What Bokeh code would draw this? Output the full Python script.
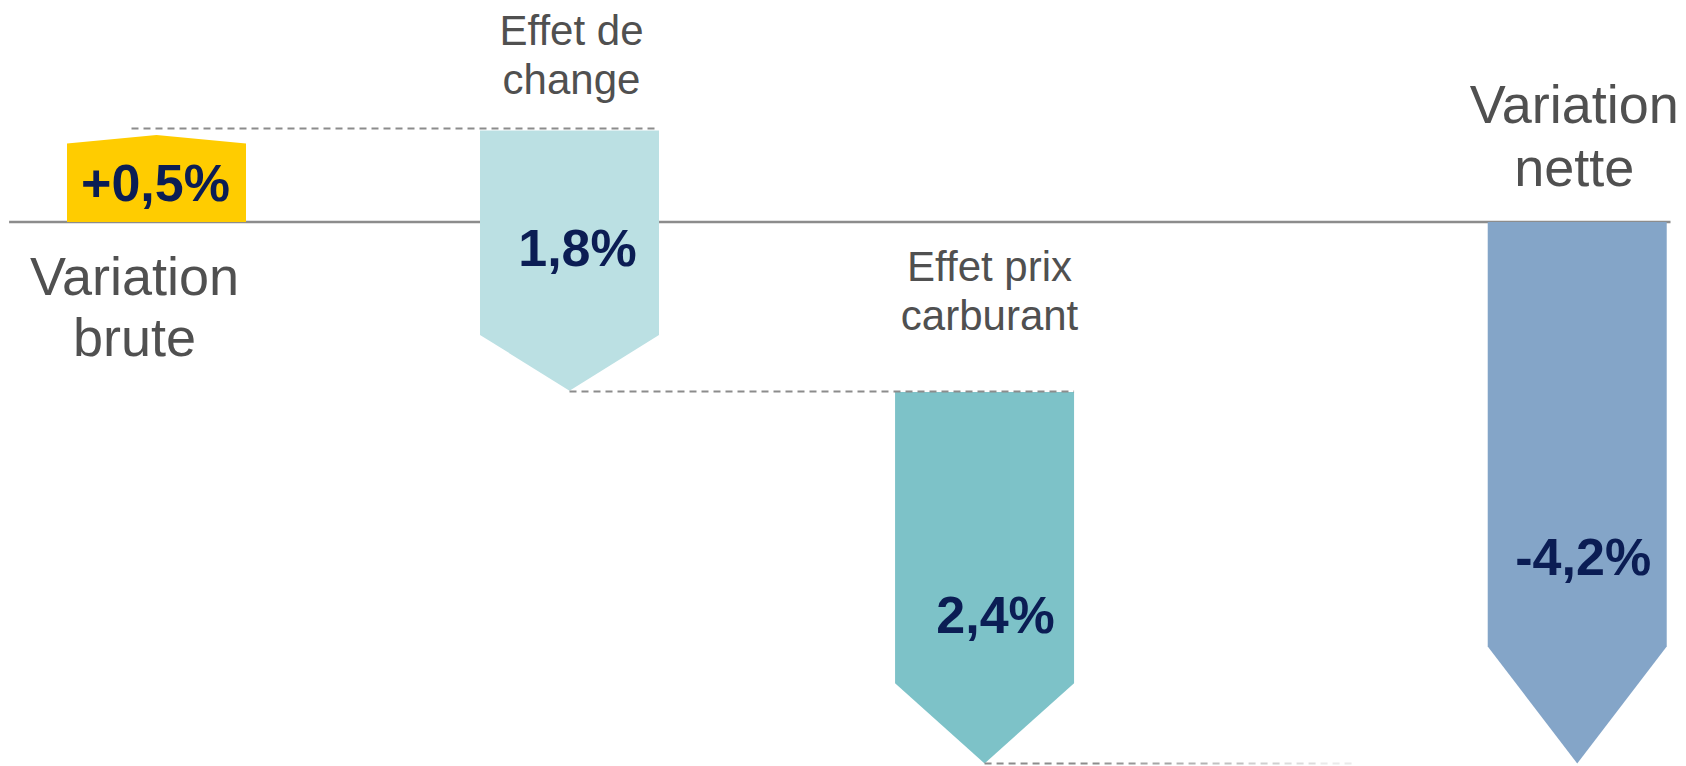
from bokeh.plotting import figure
from bokeh.models import Range1d, ColumnDataSource
from bokeh.core.properties import value
from bokeh.embed import file_html
from bokeh.resources import INLINE

# ---------------- data ----------------
categories = ["Variation\nbrute", "Effet de\nchange", "Effet prix\ncarburant", "Variation\nnette"]
value_labels = ["+0,5%", "1,8%", "2,4%", "-4,2%"]
bar_start = [0.0, 0.635, -1.18, 0.0]        # level where each arrow starts (%)
bar_end = [0.605, -1.172, -3.76, -3.76]     # level of each arrow tip (%)
connector_level = [0.649, -1.177, -3.76]    # dashed connector levels (%)

# ---------------- style / layout ----------------
W, H = 1686, 766
PX_X = 413.0          # pixels per slot
PX_Y = 144.0          # pixels per percent point
slot = [0.0, 1.0, 2.005, 3.44]
bar_w_px = 179
heads = [0.06, 0.388, 0.557, 0.812]
colors = ["#FFCC00", "#BBE0E3", "#7DC2C8", "#84A5C8"]
grey_text = "#505050"
navy = "#0B1D54"
line_grey = "#8C8C8C"

cat_size = [54, 42, 42, 54]
cat_dx_px = [-22, 2, 5, -3]
cat_base_px = [275.5, 30, 266, 103.5]      # page y of first line baseline
cat_gap_px = [61, 48.5, 49, 63]
val_dx_px = [-1, 8, 11, 6]
val_base_px = [182, 247, 614, 556]

BASE_Y_PAGE = 221.5
X0_PAGE = 156.0
ORIGIN = 0


def ydat(page_y):
    return (BASE_Y_PAGE - page_y) / PX_Y


def dx(px):
    return px / PX_X


x_start = (ORIGIN - X0_PAGE) / PX_X
y_end = (BASE_Y_PAGE - ORIGIN) / PX_Y

p = figure(width=W, height=H, output_backend="svg", toolbar_location=None,
           x_range=Range1d(x_start, x_start + W / PX_X),
           y_range=Range1d(y_end - H / PX_Y, y_end),
           min_border=0)
p.axis.visible = False
p.grid.visible = False
p.outline_line_color = None
p.background_fill_color = "white"
p.border_fill_color = "white"

# baseline
p.line([x_start + dx(8.6), x_start + dx(1670)], [0, 0], line_color=line_grey, line_width=2.5)

# arrows
half = dx(bar_w_px) / 2
xs, ys = [], []
for i in range(len(bar_start)):
    s, e, h, c = bar_start[i], bar_end[i], heads[i], slot[i]
    d = 1 if e > s else -1
    sh = e - d * h
    xs.append([c - half, c + half, c + half, c, c - half])
    ys.append([s, s, sh, e, sh])
p.patches(xs, ys, fill_color=colors, line_color=None)

# dashed connectors
seg_x, seg_y, seg_a = [], [], []
seg_x.append([slot[0] - dx(25), slot[1] + half]); seg_y.append([connector_level[0]] * 2); seg_a.append(1.0)
seg_x.append([slot[1], slot[2] + half]); seg_y.append([connector_level[1]] * 2); seg_a.append(1.0)
# last connector fades out
start = slot[2]
seg_x.append([start, start + dx(120)]); seg_y.append([connector_level[2]] * 2); seg_a.append(1.0)
n = 7
for k in range(n):
    a0 = start + dx(120 + 36 * k)
    a1 = start + dx(120 + 36 * (k + 1))
    seg_x.append([a0, a1]); seg_y.append([connector_level[2]] * 2)
    seg_a.append(0.9 - k * 0.12)
p.multi_line(seg_x, seg_y, line_color=line_grey, line_width=2, line_dash="7 5",
             line_alpha=seg_a)

# category labels
tx, ty, tt, ts = [], [], [], []
for i, cat in enumerate(categories):
    for j, line in enumerate(cat.split("\n")):
        tx.append(slot[i] + dx(cat_dx_px[i]))
        ty.append(ydat(cat_base_px[i] + j * cat_gap_px[i]))
        tt.append(line)
        ts.append(f"{cat_size[i]}px")
src = ColumnDataSource(dict(x=tx, y=ty, t=tt, s=ts))
p.text(x="x", y="y", text="t", source=src, text_font=value("Liberation Sans"),
       text_font_size="s", text_color=grey_text, text_align="center",
       text_baseline="alphabetic")

# value labels
vsrc = ColumnDataSource(dict(
    x=[slot[i] + dx(val_dx_px[i]) for i in range(len(value_labels))],
    y=[ydat(val_base_px[i]) for i in range(len(value_labels))],
    t=value_labels))
p.text(x="x", y="y", text="t", source=vsrc, text_font=value("Liberation Sans"),
       text_font_size="52px", text_font_style="bold", text_color=navy,
       text_align="center", text_baseline="alphabetic")

open("out.html", "w").write(file_html(p, INLINE))
